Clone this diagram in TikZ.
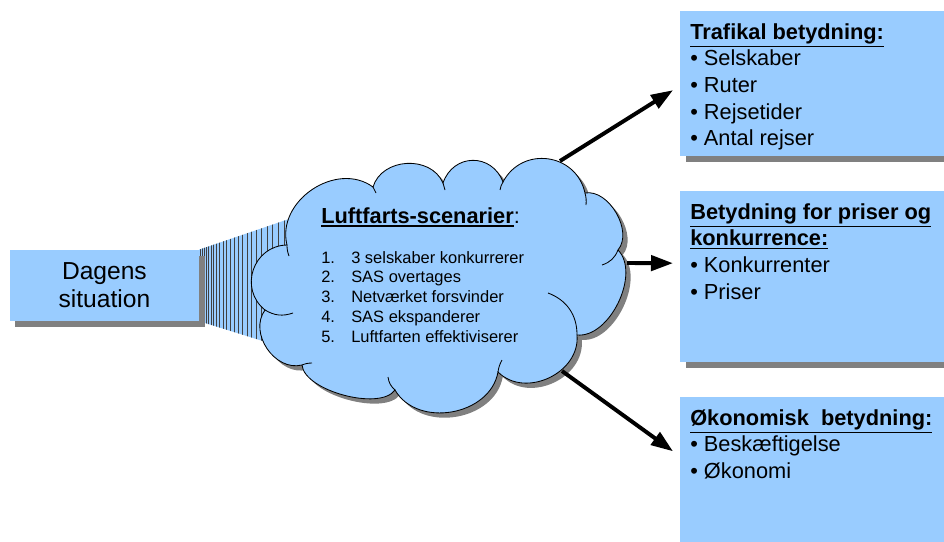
\documentclass[tikz,border=0pt]{standalone}
\usepackage{fontspec}
\setmainfont{Liberation Sans}
\usetikzlibrary{positioning, shadows, arrows.meta, calc, backgrounds}

\definecolor{skyblue}{HTML}{99CCFF}
\definecolor{shadowgray}{HTML}{808080}
\newcommand{\ulin}[1]{\leavevmode\vtop{\hbox{#1}\kern1.3pt\hrule height 1.1pt}}

\begin{document}
\begin{tikzpicture}[
    shadowed/.style={drop shadow={shadow xshift=0.14cm, shadow yshift=-0.14cm, fill=shadowgray, opacity=1}},
    box/.style={fill=skyblue, shadowed},
    infobox/.style={box, anchor=north west, inner xsep=0.25cm, inner ysep=0.3cm, font=\fontsize{15.5}{19}\selectfont},
    puffline/.style={line width=0.6pt},
    bigarrow/.style={-{Triangle[length=0.55cm, width=0.38cm]}, line width=2.8pt}
]
\useasboundingbox (0,0) rectangle (23.6,13.525);

% Udgangspunkt
\node[box, minimum width=4.725cm, minimum height=1.775cm, align=center,
      font=\fontsize{17.5}{20}\selectfont] (sit) at (2.61, 6.39) {Dagens\\situation};

% Overgang fra boks til sky
\coordinate (hatchtop) at (8.25, 8.4);
\coordinate (hatchbot) at (8.25, 4.475);
\begin{pgfonlayer}{background}
\begin{scope}
  \clip (sit.north east) -- (hatchtop) -- (hatchbot) -- (sit.south east) -- cycle;
  \fill[skyblue] (4.5, 4) rectangle (9, 9);
  \foreach \i in {1,...,30}
    \draw[black!75, line width=0.4pt] ({4.975+0.0025*\i*\i+0.035*\i}, 4) -- ++(0, 5);
\end{scope}
\end{pgfonlayer}

% Skyen: buer mellem knaekpunkter
\coordinate (c1) at (6.625, 5.775);
\coordinate (c2) at (7.175, 7.4);
\coordinate (c3) at (9.325, 8.85);
\coordinate (c4) at (11.075, 8.95);
\coordinate (c5) at (12.575, 8.975);
\coordinate (c6) at (14.625, 8.7);
\coordinate (c7) at (15.45, 7.275);
\coordinate (c8) at (14.425, 5.15);
\coordinate (c9) at (12.45, 4.225);
\coordinate (c10) at (9.875, 3.775);
\coordinate (c11) at (7.55, 4.4);

\filldraw[puffline, fill=skyblue,
          drop shadow={shadow xshift=0.12cm, shadow yshift=-0.12cm, fill=shadowgray, opacity=1}]
  (c1) to[bend left=70, looseness=1.27] (c2)
       to[bend left=70, looseness=1.12] (c3)
       to[bend left=70, looseness=1.12] (c4)
       to[bend left=70, looseness=1.34] (c5)
       to[bend left=70, looseness=1.27] (c6)
       to[bend left=70, looseness=0.94] (c7)
       to[bend left=70, looseness=0.89] (c8)
       to[bend left=70, looseness=1.12] (c9)
       to[bend left=70, looseness=1.09] (c10)
       to[bend left=70, looseness=0.69] (c11)
       to[bend left=70, looseness=1.09] (c1) -- cycle;

% indre buer
\draw[puffline] (c1) to[bend right=25] (7.325, 5.7);
\draw[puffline] (c2) to[bend right=10] (7.225, 7.125);
\draw[puffline] (c3) to[bend left=10] (9.4, 8.7);
\draw[puffline] (c4) to[bend left=10] (11.125, 8.775);
\draw[puffline] (c5) to[bend right=10] (12.5, 8.775);
\draw[puffline] (c6) to[bend left=10] (14.65, 8.4);
\draw[puffline] (c7) to[bend left=25] (15.05, 6.9);
\draw[puffline] (c8) to[bend right=35] (13.7, 6.2);
\draw[puffline] (c9) to[bend left=10] (12.55, 4.525);
\draw[puffline] (c10) to[bend left=20] (9.7, 4.1);
\draw[puffline] (c11) to[bend left=10] (7.8, 4.45);

\node[anchor=north west, inner sep=0pt, align=left, font=\fontsize{11.7}{14.2}\selectfont] (scen) at (8.025, 8.35) {%
  {\fontsize{15.5}{19}\selectfont\bfseries\ulin{Luftfarts-scenarier}}{\fontsize{15.5}{19}\selectfont:}\\[0.5cm]
  \makebox[0.75cm][l]{1.}3 selskaber konkurrerer\\
  \makebox[0.75cm][l]{2.}SAS overtages\\
  \makebox[0.75cm][l]{3.}Netværket forsvinder\\
  \makebox[0.75cm][l]{4.}SAS ekspanderer\\
  \makebox[0.75cm][l]{5.}Luftfarten effektiviserer};

% Betydninger
\node[infobox] (traf) at (17, 13.25) {\begin{minipage}[t][3.025cm][t]{6.3cm}
  \textbf{\ulin{Trafikal betydning:}}\\
  \textbullet\ Selskaber\\
  \textbullet\ Ruter\\
  \textbullet\ Rejsetider\\
  \textbullet\ Antal rejser
\end{minipage}};

\node[infobox] (pris) at (17, 8.75) {\begin{minipage}[t][3.675cm][t]{6.3cm}
  \textbf{\ulin{Betydning for priser og}}\\
  \textbf{\ulin{konkurrence:}}\\
  \textbullet\ Konkurrenter\\
  \textbullet\ Priser
\end{minipage}};

\node[infobox] (oko) at (17, 3.6) {\begin{minipage}[t][3.3cm][t]{6.3cm}
  \textbf{\ulin{Økonomisk\ \ betydning:}}\\
  \textbullet\ Beskæftigelse\\
  \textbullet\ Økonomi
\end{minipage}};

% Pile
\coordinate (out1) at (14.0, 9.5);
\coordinate (out2) at (15.675, 6.95);
\coordinate (out3) at (14.05, 4.25);
\coordinate (tip1) at ([xshift=-0.175cm, yshift=-0.16cm]traf.west);
\coordinate (tip2) at ([xshift=-0.175cm, yshift=0.34cm]pris.west);
\coordinate (tip3) at ([xshift=-0.175cm, yshift=0.6cm]oko.west);
\draw[bigarrow] (out1) -- (tip1);
\draw[bigarrow] (out2) -- (tip2);
\draw[bigarrow] (out3) -- (tip3);

\end{tikzpicture}
\end{document}
